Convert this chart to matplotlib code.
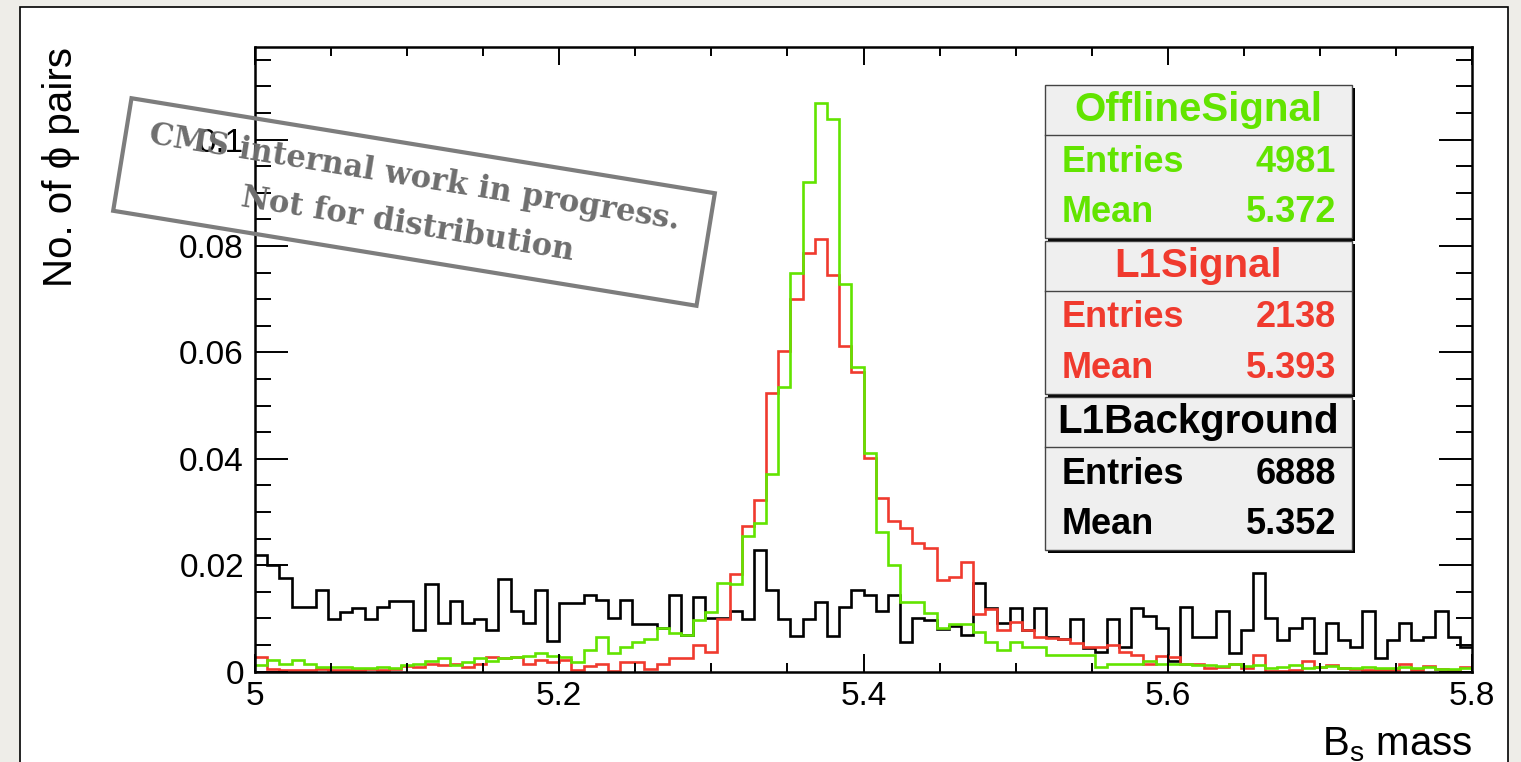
import numpy as np
import matplotlib.pyplot as plt
from matplotlib.patches import Rectangle, Polygon
from matplotlib.ticker import MultipleLocator, FuncFormatter

plt.rcParams['font.family'] = ['Liberation Sans', 'DejaVu Sans']
plt.rcParams['mathtext.fontset'] = 'custom'
plt.rcParams['mathtext.rm'] = 'Liberation Sans'
plt.rcParams['mathtext.it'] = 'Liberation Sans:italic'

# B_s mass, 100 bins of 0.008 between 5.0 and 5.8 (normalised counts)
x_lo, x_hi, n_bins = 5.0, 5.8, 100

l1_background = [
    0.0219, 0.0200, 0.0175, 0.0122, 0.0122, 0.0153, 0.0099, 0.0111, 0.0120, 0.0099,
    0.0122, 0.0133, 0.0133, 0.0078, 0.0164, 0.0091, 0.0133, 0.0092, 0.0099, 0.0078,
    0.0174, 0.0114, 0.0091, 0.0153, 0.0058, 0.0129, 0.0129, 0.0144, 0.0134, 0.0100,
    0.0134, 0.0089, 0.0089, 0.0081, 0.0143, 0.0069, 0.0140, 0.0101, 0.0101, 0.0113,
    0.0099, 0.0228, 0.0154, 0.0099, 0.0066, 0.0099, 0.0131, 0.0066, 0.0122, 0.0153,
    0.0144, 0.0114, 0.0144, 0.0056, 0.0100, 0.0097, 0.0080, 0.0085, 0.0068, 0.0166,
    0.0119, 0.0091, 0.0119, 0.0078, 0.0119, 0.0064, 0.0062, 0.0098, 0.0045, 0.0037,
    0.0098, 0.0047, 0.0120, 0.0104, 0.0081, 0.0020, 0.0122, 0.0065, 0.0065, 0.0113,
    0.0034, 0.0078, 0.0186, 0.0100, 0.0059, 0.0081, 0.0100, 0.0034, 0.0091, 0.0059,
    0.0047, 0.0113, 0.0025, 0.0059, 0.0091, 0.0059, 0.0065, 0.0113, 0.0065, 0.0047,
]

offline_signal = [
    0.0012, 0.0022, 0.0015, 0.0022, 0.0015, 0.0008, 0.0008, 0.0008, 0.0006, 0.0006,
    0.0008, 0.0006, 0.0012, 0.0015, 0.0020, 0.0025, 0.0012, 0.0018, 0.0025, 0.0020,
    0.0025, 0.0028, 0.0030, 0.0035, 0.0030, 0.0027, 0.0018, 0.0040, 0.0064, 0.0034,
    0.0047, 0.0056, 0.0062, 0.0082, 0.0072, 0.0068, 0.0097, 0.0112, 0.0166, 0.0164,
    0.0255, 0.0279, 0.0372, 0.0535, 0.0750, 0.0921, 0.1068, 0.1038, 0.0728, 0.0573,
    0.0410, 0.0262, 0.0201, 0.0131, 0.0131, 0.0110, 0.0081, 0.0089, 0.0089, 0.0075,
    0.0056, 0.0040, 0.0056, 0.0047, 0.0047, 0.0031, 0.0031, 0.0031, 0.0031, 0.0009,
    0.0015, 0.0015, 0.0015, 0.0020, 0.0014, 0.0015, 0.0015, 0.0012, 0.0012, 0.0010,
    0.0014, 0.0010, 0.0012, 0.0006, 0.0008, 0.0012, 0.0006, 0.0008, 0.0010, 0.0006,
    0.0006, 0.0008, 0.0006, 0.0006, 0.0008, 0.0006, 0.0008, 0.0005, 0.0005, 0.0006,
]

l1_signal = [
    0.0027, 0.0005, 0.0002, 0.0002, 0.0002, 0.0005, 0.0003, 0.0003, 0.0003, 0.0005,
    0.0003, 0.0005, 0.0010, 0.0008, 0.0015, 0.0012, 0.0015, 0.0008, 0.0015, 0.0027,
    0.0025, 0.0027, 0.0015, 0.0022, 0.0018, 0.0022, 0.0003, 0.0010, 0.0014, 0.0001,
    0.0018, 0.0018, 0.0005, 0.0014, 0.0026, 0.0026, 0.0050, 0.0037, 0.0098, 0.0184,
    0.0274, 0.0322, 0.0523, 0.0603, 0.0701, 0.0786, 0.0814, 0.0745, 0.0612, 0.0564,
    0.0401, 0.0326, 0.0283, 0.0269, 0.0241, 0.0232, 0.0172, 0.0177, 0.0205, 0.0108,
    0.0118, 0.0078, 0.0094, 0.0078, 0.0065, 0.0063, 0.0062, 0.0053, 0.0047, 0.0047,
    0.0050, 0.0037, 0.0031, 0.0014, 0.0029, 0.0027, 0.0015, 0.0015, 0.0006, 0.0009,
    0.0014, 0.0006, 0.0031, 0.0001, 0.0001, 0.0002, 0.0020, 0.0009, 0.0012, 0.0006,
    0.0004, 0.0003, 0.0002, 0.0003, 0.0014, 0.0003, 0.0010, 0.0004, 0.0003, 0.0009,
]

# stat box contents
stat_names = ["OfflineSignal", "L1Signal", "L1Background"]
stat_entries = [4981, 2138, 6888]
stat_means = ["5.372", "5.393", "5.352"]

GREEN = "#62e400"
RED = "#f03a2e"
BLACK = "#000000"
colors = [GREEN, RED, BLACK]

W, H = 1521, 762


def fx(px):
    return px / W


def fy(py):
    return 1 - py / H


fig = plt.figure(figsize=(W / 100, H / 100), dpi=100)
fig.patch.set_facecolor("#eeede8")

# white slide panel, behind everything
fig.patches.append(Rectangle((fx(20), fy(775)), fx(1508) - fx(20), fy(7) - fy(775),
                             transform=fig.transFigure, facecolor="white",
                             edgecolor="black", lw=1.2, zorder=-10))

ax = fig.add_axes([fx(255), fy(671.5), fx(1472) - fx(255), fy(46.5) - fy(671.5)])
ax.set_zorder(1)
edges = np.linspace(x_lo, x_hi, n_bins + 1)
ax.stairs(l1_background, edges, color=BLACK, lw=1.9, baseline=None)
ax.stairs(l1_signal, edges, color=RED, lw=1.9, baseline=None)
ax.stairs(offline_signal, edges, color=GREEN, lw=1.9, baseline=None)

ax.set_xlim(x_lo, x_hi)
ax.set_ylim(0, 0.1175)
for s in ax.spines.values():
    s.set_linewidth(1.8)

ax.xaxis.set_major_locator(MultipleLocator(0.2))
ax.xaxis.set_minor_locator(MultipleLocator(0.05))
ax.yaxis.set_major_locator(MultipleLocator(0.02))
ax.yaxis.set_minor_locator(MultipleLocator(0.005))
fmt = FuncFormatter(lambda v, p: "%g" % round(v, 4))
ax.xaxis.set_major_formatter(fmt)
ax.yaxis.set_major_formatter(fmt)
ax.tick_params(which="both", direction="in", top=True, right=True, width=1.4)
ax.tick_params(axis="x", which="major", length=13, labelsize=24, pad=7)
ax.tick_params(axis="x", which="minor", length=6.5)
ax.tick_params(axis="y", which="major", length=24, labelsize=24, pad=8)
ax.tick_params(axis="y", which="minor", length=11.5)

fig.text(fx(61), fy(47), "No. of \u03d5 pairs", rotation=90, ha="center", va="top",
         fontsize=29)
fig.text(fx(1472), fy(755), r"B$_{\mathrm{s}}$ mass", ha="right", va="baseline",
         fontsize=29)

# stat boxes
box_left, box_right = 1045, 1352
box_tops = [85, 241, 397]
box_h, title_h, shadow = 153, 50, 3
for name, ent, mean, col, top in zip(stat_names, stat_entries, stat_means, colors, box_tops):
    fig.patches.append(Rectangle((fx(box_left + shadow), fy(top + box_h + shadow)),
                                 fx(box_right) - fx(box_left), box_h / H,
                                 transform=fig.transFigure, facecolor="black",
                                 edgecolor="none", zorder=5))
    fig.patches.append(Rectangle((fx(box_left), fy(top + box_h)),
                                 fx(box_right) - fx(box_left), box_h / H,
                                 transform=fig.transFigure, facecolor="#efefef",
                                 edgecolor="#444444", lw=1.0, zorder=6))
    fig.lines.append(plt.Line2D([fx(box_left), fx(box_right)],
                                [fy(top + title_h), fy(top + title_h)],
                                transform=fig.transFigure, color="#444444", lw=1.0,
                                zorder=7))
    fig.text(fx((box_left + box_right) / 2), fy(top + 25), name, ha="center",
             va="center", fontsize=29, fontweight="bold", color=col, zorder=8)
    fig.text(fx(1062), fy(top + 77), "Entries", ha="left", va="center",
             fontsize=26, fontweight="bold", color=col, zorder=8)
    fig.text(fx(1336), fy(top + 77), str(ent), ha="right", va="center",
             fontsize=26, fontweight="bold", color=col, zorder=8)
    fig.text(fx(1062), fy(top + 128), "Mean", ha="left", va="center",
             fontsize=26, fontweight="bold", color=col, zorder=8)
    fig.text(fx(1336), fy(top + 128), mean, ha="right", va="center",
             fontsize=26, fontweight="bold", color=col, zorder=8)

# "work in progress" stamp
cx, cy, bw, bh, ang = 414, 202, 591, 114, np.deg2rad(9.25)
corners = []
for dx, dy in [(-bw / 2, -bh / 2), (bw / 2, -bh / 2), (bw / 2, bh / 2), (-bw / 2, bh / 2)]:
    px = cx + dx * np.cos(ang) - dy * np.sin(ang)
    py = cy + dx * np.sin(ang) + dy * np.cos(ang)
    corners.append((fx(px), fy(py)))
fig.patches.append(Polygon(corners, closed=True, transform=fig.transFigure,
                           facecolor="none", edgecolor="#7d7d7d", lw=3, zorder=10))
fig.text(fx(415), fy(178), "CMS internal work in progress.", rotation=-9.25,
         rotation_mode="anchor", ha="center", va="center", fontsize=22,
         fontweight="bold", family="DejaVu Serif", color="#6e6e6e", zorder=10)
fig.text(fx(408), fy(225), "Not for distribution", rotation=-9.25,
         rotation_mode="anchor", ha="center", va="center", fontsize=22,
         fontweight="bold", family="DejaVu Serif", color="#6e6e6e", zorder=10)

fig.savefig("out.png", dpi=100, facecolor=fig.get_facecolor())
